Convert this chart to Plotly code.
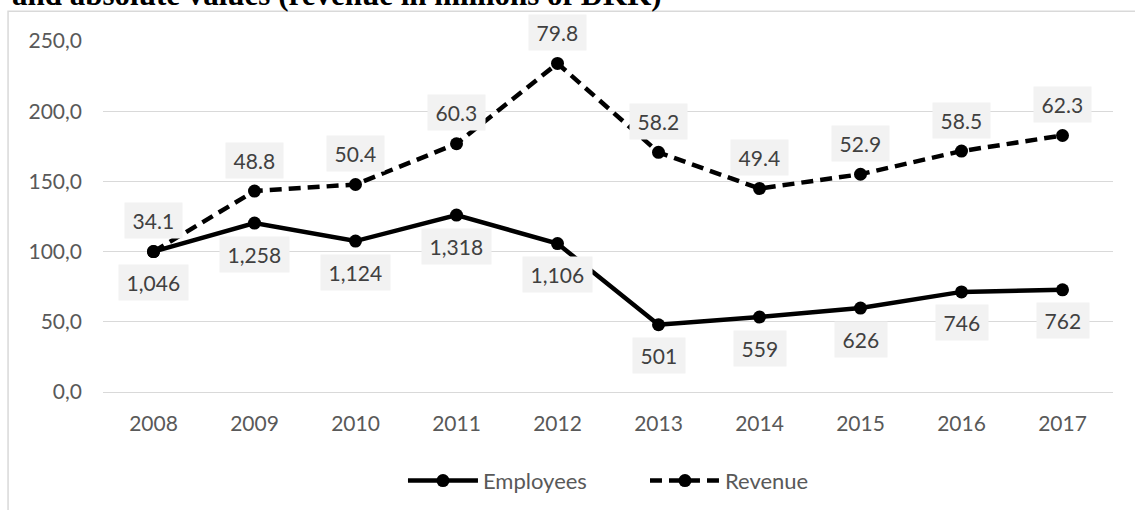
import plotly.graph_objects as go

# ---- data ----
years = ["2008", "2009", "2010", "2011", "2012", "2013", "2014", "2015", "2016", "2017"]
employees_index = [100.0, 120.3, 107.5, 126.0, 105.7, 47.9, 53.4, 59.8, 71.3, 72.8]
revenue_index = [100.0, 143.1, 147.8, 176.8, 234.0, 170.7, 144.9, 155.1, 171.6, 182.7]
employees_labels = ["1,046", "1,258", "1,124", "1,318", "1,106", "501", "559", "626", "746", "762"]
revenue_labels = ["34.1", "48.8", "50.4", "60.3", "79.8", "58.2", "49.4", "52.9", "58.5", "62.3"]
y_ticks = [0, 50, 100, 150, 200, 250]
title_text = "and absolute values (revenue in millions of DKK)"

FONT = "Lato"
GRID = "#d9d9d9"
TXT = "#595959"
LBL = "#404040"

fig = go.Figure()
fig.add_trace(go.Scatter(
    x=years, y=employees_index, name="Employees", mode="lines+markers",
    line=dict(color="black", width=4.5),
    marker=dict(color="black", size=13),
))
fig.add_trace(go.Scatter(
    x=years, y=revenue_index, name="Revenue", mode="lines+markers",
    line=dict(color="black", width=4.5, dash="12px,7px"),
    marker=dict(color="black", size=13),
))

annotations = []
for i, (v, t) in enumerate(zip(employees_index, employees_labels)):
    annotations.append(dict(
        x=i, y=v, xref="x", yref="y", text="\u2009" + t + "\u2009", showarrow=False,
        yshift=-31, bgcolor="#f2f2f2", borderpad=5,
        font=dict(family=FONT, size=21, color=LBL),
    ))
for i, (v, t) in enumerate(zip(revenue_index, revenue_labels)):
    annotations.append(dict(
        x=i, y=v, xref="x", yref="y", text="\u2009" + t + "\u2009", showarrow=False,
        yshift=31, bgcolor="#f2f2f2", borderpad=5,
        font=dict(family=FONT, size=21, color=LBL),
    ))
annotations.append(dict(
    x=-0.092, y=1.078, xref="paper", yref="paper", xanchor="left", yanchor="bottom",
    text="<b>" + title_text + "</b>", showarrow=False,
    font=dict(family="Liberation Serif", size=31, color="black"),
))

fig.update_layout(
    width=1135, height=510,
    margin=dict(l=103, r=22, t=41, b=118, autoexpand=False),
    paper_bgcolor="white", plot_bgcolor="white",
    separators=", ",
    font=dict(family=FONT, size=21, color=TXT),
    showlegend=True,
    legend=dict(
        orientation="h", x=0.297, xanchor="left", y=-0.253, yanchor="middle",
        font=dict(family=FONT, size=22, color=TXT), itemwidth=70,
        entrywidth=157, entrywidthmode="pixels",
        bgcolor="rgba(0,0,0,0)",
    ),
    annotations=annotations,
    shapes=[dict(
        type="rect", xref="paper", yref="paper",
        x0=-0.094, x1=1.05, y0=-0.40, y1=1.0845,
        line=dict(color=GRID, width=1.5), fillcolor="rgba(0,0,0,0)", layer="below",
    )],
)
fig.update_xaxes(
    type="category", range=[-0.5, 9.5], showgrid=False, showline=False,
    ticks="", ticklabelstandoff=17,
    tickfont=dict(family=FONT, size=21, color=TXT),
)
fig.update_yaxes(
    range=[0, 250], tickvals=y_ticks, tickformat=".1f",
    showgrid=True, gridcolor=GRID, gridwidth=1.3,
    zeroline=True, zerolinecolor=GRID, zerolinewidth=1.3,
    showline=False, ticks="", ticklabelstandoff=20,
    tickfont=dict(family=FONT, size=21, color=TXT),
)

fig.write_html("out.html")
